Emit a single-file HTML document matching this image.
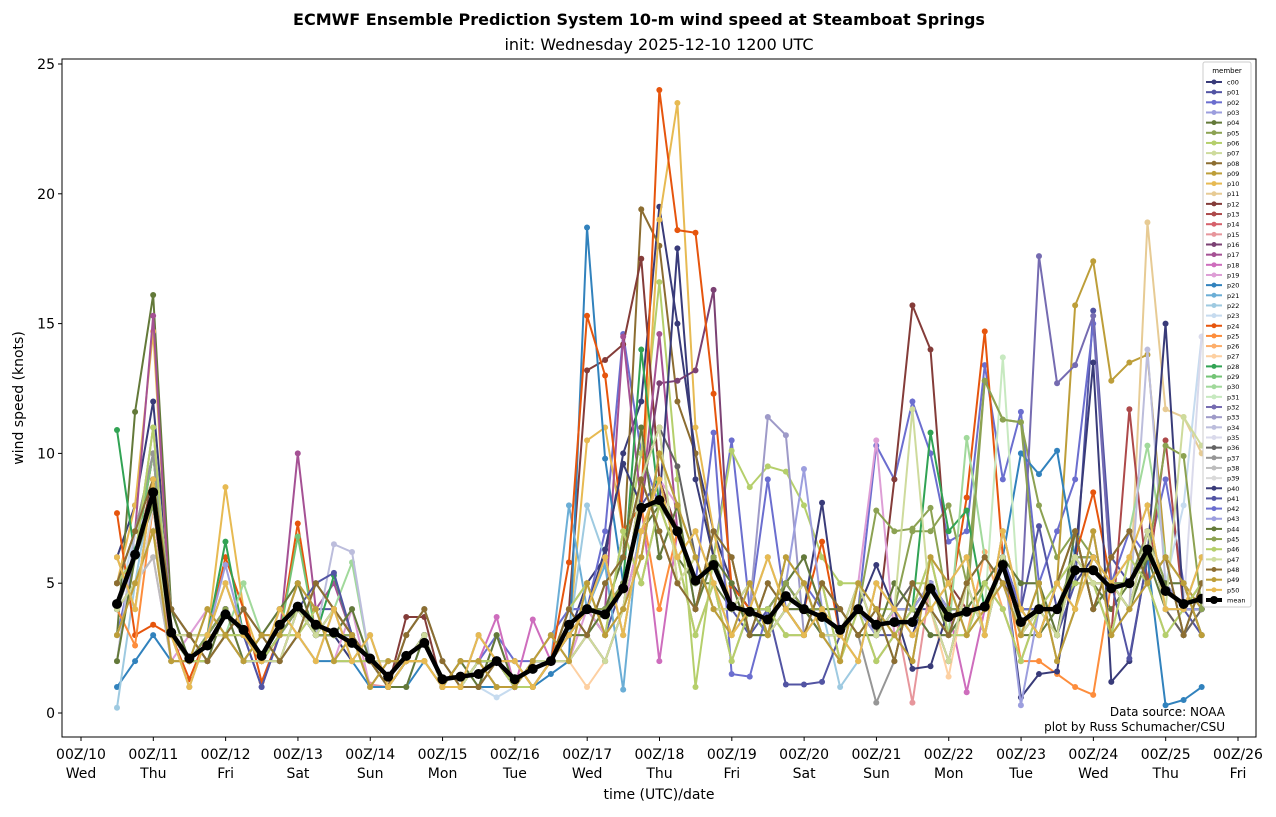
<!DOCTYPE html>
<html><head><meta charset="utf-8"><style>
body{margin:0;background:#fff;font-family:"Liberation Sans","DejaVu Sans",sans-serif}
svg text{font-family:"DejaVu Sans","Liberation Sans",sans-serif}
</style></head><body>
<svg id="chart" width="1276" height="812" xmlns="http://www.w3.org/2000/svg">
<text x="639" y="25" text-anchor="middle" font-size="16" font-weight="bold">ECMWF Ensemble Prediction System 10-m wind speed at Steamboat Springs</text>
<text x="659" y="50" text-anchor="middle" font-size="16">init: Wednesday 2025-12-10 1200 UTC</text>
<text transform="translate(23,398) rotate(-90)" text-anchor="middle" font-size="14">wind speed (knots)</text>
<text x="659" y="799" text-anchor="middle" font-size="14">time (UTC)/date</text>
<g id="axes"></g>
<g id="series"></g>
<g id="meanG"></g>
<rect x="62" y="59" width="1194" height="678" fill="none" stroke="#000" stroke-width="1"/>
<text x="1225" y="716" text-anchor="end" font-size="12">Data source: NOAA</text>
<text x="1225" y="731" text-anchor="end" font-size="12">plot by Russ Schumacher/CSU</text>
<g id="legend"></g>
</svg>
<script>
const dayLabels=["00Z/10","00Z/11","00Z/12","00Z/13","00Z/14","00Z/15","00Z/16","00Z/17","00Z/18","00Z/19","00Z/20","00Z/21","00Z/22","00Z/23","00Z/24","00Z/25","00Z/26"];
const weekdays=["Wed","Thu","Fri","Sat","Sun","Mon","Tue","Wed","Thu","Fri","Sat","Sun","Mon","Tue","Wed","Thu","Fri"];
const yTicks=[0,5,10,15,20,25];
const memberNames=["c00"].concat(Array.from({length:50},(_,i)=>"p"+String(i+1).padStart(2,"0")));
const meanValues=[4.2,6.1,8.5,3.1,2.1,2.6,3.8,3.2,2.2,3.4,4.1,3.4,3.1,2.7,2.1,1.4,2.2,2.7,1.3,1.4,1.5,2.0,1.3,1.7,2.0,3.4,4.0,3.8,4.8,7.9,8.2,7.0,5.1,5.7,4.1,3.9,3.6,4.5,4.0,3.7,3.2,4.0,3.4,3.5,3.5,4.8,3.7,3.9,4.1,5.7,3.5,4.0,4.0,5.5,5.5,4.8,5.0,6.3,4.7,4.2,4.4];
const m=[
[6,8,12,4,3,2,3,2,2,3,4,3,3,2,2,1,2,3,1,1,2,2,1,2,2,3,5,6,10,12,19.5,15,10,7,5,4,3,4,4,4,3,4,3,4,3,5,4,4,5,6,3,4,4,5,6,5,4,7,4,4,5],
[5,7,9,3,2,3,4,3,2,3,5,4,4,3,2,1,2,3,1,1,2,1,1,2,2,4,4,3,5,8,9,7,5,6,4,3,4,5,4,3,3,4,3,3,4,4,3,4,4,5,3,4,3,5,15.5,6,5,7,5,4,3],
[3,6,10,3,2,3,4,3,1,3,4,3,3,3,2,1,2,3,1,2,2,3,2,2,3,4,4,7,14.6,10,8,7,5,6,10.5,4,9,4,5,4,3,4,10.3,9,12,10,6.6,7,13.4,9,11.6,5,7,9,15,5,7,6,9,5,4],
[5,7,10,4,3,2,3,4,3,2,3,5,4,3,2,1,3,4,2,1,1,2,2,1,2,4,3,5,6,9,7,5,4,7,6,3,5,4,3,5,4,3,4,2,5,4,3,5,6,5,4,3,5,7,4,6,7,5,6,3,5],
[3,11.6,16.1,4,2,3,4,3,2,3,4,3,3,3,2,1,2,3,1,1,1,2,1,2,2,3,4,3,4,7,8,6,5,5,4,4,3,4,4,3,3,4,3,4,4,5,3,4,4,5,3,3,4,5,5,4,5,6,4,4,4],
[4,6,9,3,2,3,4,3,2,3,4,3,3,3,2,1,2,3,1,1,2,2,1,2,2,3,4,4,5,8,8,7,5,6,4,4,3,5,4,4,3,4,3,4,7,7,8,5,12.8,11.3,11.2,8,6,7,6,5,5,7,5,4,4],
[5,7,9,3,2,3,4,3,2,3,4,3,3,3,2,1,2,3,1,1,2,2,1,2,2,3,4,4,6,10,16.6,9,1,6,10.1,8.7,9.5,9.3,8,6,5,5,4,4,5,5,4,4,5,6,4,4,4,5,5,5,4,6,5,4,4],
[3,5,7,2,2,4,3,2,3,3,5,4,2,3,1,2,2,2,1,2,2,1,1,2,3,2,5,3,4,6,10,8,6,4,3,5,3,6,5,3,2,5,4,3,2,6,5,3,4,5,3,5,2,4,7,3,4,5,6,5,3],
[5,7,9,4,2,3,4,3,2,3,4,3,3,3,2,1,2,3,1,1,2,2,1,2,2,3,4,4,6,19.4,18,12,10,6,4,4,4,5,4,4,3,4,3,4,4,5,4,4,4,6,4,4,4,6,6,5,5,6,5,4,4],
[6,4,9,3,1,3,5,3,2,4,3,2,4,2,3,1,2,2,1,1,3,2,2,1,2,3,4,6,3,7,9,6,7,5,3,4,6,4,3,4,3,2,5,4,3,4,5,6,3,7,4,3,5,15.7,17.4,12.8,13.5,13.8,6,5,4],
[5,8,14.7,3,2,3,8.7,4,2,3,4,3,3,3,2,1,2,3,1,1,2,2,1,2,2,3,10.5,11,7,8,19,23.5,11,7,4,4,4,5,4,4,3,4,3,4,4,5,4,4,4,6,4,4,4,6,6,5,5,6,5,4,4],
[2,7,8,4,2,2,4,2,3,4,5,3,3,4,2,1,1,3,1,2,1,3,1,2,2,3,3,4,6,11,6,8,4,6,5,3,3,5,6,4,4,3,3,5,4,3,3,4,5,6,5,5,3,7,4,5,4,18.9,11.7,11.4,10],
[5,6,9,3,2,3,4,3,2,3,4,3,3,3,2,1,3.7,3.7,1,1,3,2,1,2,2,4,13.2,13.6,14.2,17.5,9,7,5,6,4,4,4,5,4,4,3,4,3,9,15.7,14,5,4,4,6,4,4,4,6,6,5,5,6,5,4,4],
[5,6,11,3,2,2,3,3,2,3,3,4,2,2,2,1,2,2,1,1,2,2,1,1,2,4,5,3,7,5,8,6,3,5,2,4,4,3,3,5,2,4,2,3,4,6,3,3,5,4,2,4,5,6,5,3,11.7,5,10.5,4,5],
[4,5,7,3,3,3,3,2,2,2,4,3,4,3,2,2,2,3,1,1,2,1,1,2,2,2,3,2,4,9,11,5,6,4,4,5,3,4,5,3,3,5,3,4,5,4,2,5,3,6,3,4,3,6,5,5,4,7,4,3,4],
[4,6,8,2,2,3,4,3,2,3,4,3,3,3,1.1,1,2,3,1,1,2,2,1,2,2,3,4,4,5,8,8,7,5,6,4,4,4,5,4,4,3,4,3,4,0.4,5,4,4,4,6,4,4,4,6,6,5,5,6,5,4,4],
[4,6,10,3,2,3,4,3,2,3,4,3,3,3,2,1,2,3,1,1,2,2,1,2,2,3,4,4,5,8,12.7,12.8,13.2,16.3,4,4,4,5,4,4,3,4,3,4,4,5,4,4,4,6,4,4,4,6,6,5,5,6,5,4,4],
[5,7,15.3,3,2,3,4,3,2,3,10,4,5,3,2,1,2,3,1,1,2,2,1,2,2,3,4,4,14.5,8,14.6,7,5,6,4,4,4,5,4,4,3,4,3,4,4,5,4,4,4,6,4,4,4,6,6,5,5,6,5,4,4],
[4,6,8,3,2,3,4,3,2,3,4,3,3,3,2,1,2,3,1,1,2,3.7,1,3.6,2,3,4,4,5,8,2,7,5,6,4,4,4,5,4,4,3,4,3,4,4,5,4,0.8,4,6,4,4,4,6,6,5,5,6,5,4,4],
[3,5,6,2,3,4,3,2,3,3,5,4,2,4,1,2,2,2,1,2,2,1,1,2,3,2,4,3,4,7,9,8,6,4,3,5,3,6,5,3,2,5,10.5,3,2,6,5,3,4,5,3,5,2,4,7,3,4,5,6,5,3],
[1,2,3,2,2,2,3,2,2,2,3,2,2,2,1,1,1,2,1,1,1,1,1,1,1.5,2,18.7,9.8,5,8,8,7,5,6,4,4,4,5,4,4,3,4,3,4,4,5,4,4,4,6,10,9.2,10.1,6,6,5,5,6,0.3,0.5,1],
[4,6,8,3,2,3,4,3,2,3,4,3,3,3,2,1,2,3,1,1,2,2,1,2,2,8,4,5.7,0.9,8,8,7,5,6,4,4,4,5,4,4,3,4,3,4,4,5,4,4,4,6,4,4,4,6,6,5,5,6,5,4,4],
[0.2,5,9,3,1,3,5,3,2,4,3,2,4,2,3,1,2,2,1,1,3,2,2,1,2,3,8,6,3,7,9,6,7,5,3,4,6,4,3,4,1,2,5,4,3,4,5,6,3,7,4,3,5,4,6,5,6,8,4,4,6],
[4,7,8,4,2,2,4,2,3,4,5,3,3,4,2,1,1,3,1,2,1,0.6,1,2,2,3,3,4,6,11,6,8,4,6,5,3,3,5,6,4,4,3,3,5,4,3,3,4,5,6,5,5,3,7,4,5,4,6,5,8,14.5],
[7.7,3,3.4,3,1.3,3,6,4,1.2,3,7.3,3,3,3,2,1,2,3,1,1,2,2,1,2,2,5.8,15.3,13,7,8,24,18.6,18.5,12.3,4.9,4,4,5,4,6.6,3,4,3,4,4,5,4,8.3,14.7,6,4,4,4,6,8.5,5,5,6,5,4,4],
[4,2.6,8,3,2,3,4,3,2,3,4,3,3,3,2,1,2,3,1,1,2,2,1,2,2,3,4,4,5,8,4,7,5,6,4,4,4,5,4,4,3,4,3,4,4,5,4,4,4,6,2,2,1.5,1,0.7,5,5,6,5,4,4],
[5,6,10,3,2,2,3,3,2,3,3,4,2,2,2,1,2,2,1,1,2,2,1,1,2,4,5,3,7,5,8,6,3,5,2,4,4,3,3,5,2,4,2,3,4,6,3,3,6.2,4,2,4,5,6,5,3,6,5,3,4,5],
[4,5,7,3,3,3,3,2,2,2,4,3,4,3,2,2,2,3,1,1,2,1,1,2,2,2,1,2,4,9,11,5,6,4,4,5,3,4,5,3,3,5,3,4,5,4,1.4,5,3,6,3,4,3,6,5,5,4,7,4,3,4],
[10.9,6,8,3,2,3,6.6,3,2,3,4,3,5.3,3,2,1,2,3,1,1,2,2,1,2,2,3,4,4,5,14,8,7,5,6,4,4,4,5,4,4,3,4,3,4,4,10.8,7,7.8,4,6,4,4,4,6,6,5,5,6,5,4,4],
[4,6,10,3,2,3,5,3,2,3,6.8,3,3,3,2,1,2,3,1,1,2,2,1,2,2,3,4,4,5,8,8,7,5,6,4,4,4,5,4,4,3,4,3,4,4,5,4,4,4,6,4,4,4,6,6,5,5,6,5,4,4],
[5,7,10,4,3,2,3,5,3,2,3,5,4,5.8,2,1,3,4,2,1,1,2,2,1,2,4,3,5,6,9,7,5,4,7,6,3,5,4,3,5,4,3,4,2,5,4,3,10.6,6,5,4,3,5,7,4,6,7,10.3,6,3,5],
[3,5,7,2,2,4,3,2,3,3,5,4,2,3,1,2,2,2,1,2,2,1,1,2,3,2,5,3,4,6,10,8,6,4,3,5,3,6,5,3,2,5,4,3,2,6,5,3,4,13.7,3,5,2,4,7,3,4,5,6,5,3],
[4,6,8,3,2,3,4,3,2,3,4,3,3,3,2,1,2,3,1,1,2,2,1,2,2,3,4,4,5,8,8,7,5,6,4,4,4,5,4,4,3,4,3,4,4,5,4,4,4,6,4,17.6,12.7,13.4,15.3,5,5,6,5,4,4],
[6,4,9,3,1,3,5,3,2,4,3,2,4,2,3,1,2,2,1,1,3,2,2,1,2,3,4,6,3,7,9,6,7,5,3,4,11.4,10.7,3,4,3,2,5,4,3,4,5,6,3,7,4,3,5,4,6,5,6,8,4,4,6],
[2,7,8,4,2,2,4,2,3,4,5,3,6.5,6.2,2,1,1,3,1,2,1,3,1,2,2,3,3,4,6,11,6,8,4,6,5,3,3,5,6,4,4,3,3,5,4,3,3,4,5,6,5,5,3,7,4,5,4,14,5,5,3],
[5,6,11,3,2,2,3,3,2,3,3,4,2,2,2,1,2,2,1,1,2,2,1,1,2,4,5,3,7,5,8,6,3,5,2,4,4,3,3,5,2,4,2,3,4,6,3,3,5,4,2,4,5,6,5,3,6,5,3,4,14.5],
[4,5,7,3,3,3,3,2,2,2,4,3,4,3,2,2,2,3,1,1,2,1,1,2,2,2,3,2,4,9,11,9.5,6,4,4,5,3,4,5,3,3,5,3,4,5,4,2,5,3,6,3,4,3,6,5,5,4,7,4,3,4],
[5,7,10,4,3,2,3,4,3,2,3,5,4,3,2,1,3,4,2,1,1,2,2,1,2,4,3,5,6,9,7,5,4,7,6,3,5,4,3,5,4,3,0.4,2,5,4,3,5,6,5,4,3,5,7,4,6,7,5,6,3,5],
[3,5,6,2,2,4,3,2,3,3,5,4,2,3,1,2,2,2,1,2,2,1,1,2,3,2,5,3,4,6,10,8,6,4,3,5,3,6,5,3,2,5,4,3,2,6,5,3,4,5,3,5,2,4,7,3,4,5,6,5,3],
[6,4,8,3,1,3,5,3,2,4,3,2,4,2,3,1,2,2,1,1,3,2,2,1,2,3,4,6,3,7,9,6,7,5,3,4,6,4,3,4,3,2,5,4,3,4,5,6,3,7,4,3,5,4,6,5,6,8,4,4,6],
[4,6,8,3,2,3,4,3,2,3,4,3,3,3,2,1,2,3,1,1,2,2,1,2,2,3,4,6.3,9.6,8,8,17.9,9,6,4,4,4,5,4,8.1,3,4,5.7,4,1.7,1.8,4,4,4,6,0.6,1.5,1.6,6,13.5,1.2,2,6,15,4,4],
[4,6,8,3,2,3,4,3,1,3,4,5,5.4,3,2,1,2,3,1,1,2,2,1,2,2,3,4,4,5,8,8,7,5,6,4,4,4,1.1,1.1,1.2,3,4,3,4,4,5,4,4,4,6,4,7.2,4,6,6,5,2.1,6,5,4,4],
[4,6,8,3,2,3,4,3,2,3,4,3,3,3,2,1,2,3,1,1,2,2,1,2,2,3,4,4,5,8,8,7,5,10.8,1.5,1.4,4,5,4,4,3,4,3,4,4,5,4,4,4,6,4,4,4,6,6,5,5,6,5,4,4],
[4,6,8,3,2,3,5.7,3,2,3,4,3,3,3,2,1,2,3,1,1,2,2,1,2,2,3,4,4,5,8,8,7,5,6,4,4,4,5,9.4,4,3,4,3,4,4,5,4,4,4,6,0.3,4,4,6,6,5,5,6,5,4,4],
[2,6,8,4,2,2,4,2,3,4,5,3,3,4,2,1,1,3,1,2,1,3,1,2,2,3,3,4,6,11,6,8,4,6,5,3,3,5,6,4,4,3,3,5,4,3,3,4,5,6,5,5,3,7,4,5,4,6,5,5,3],
[4,6,8,3,2,3,4,3,2,3,4,3,3,3,2,1,2,3,1,1,2,2,1,2,2,3,4,4,5,8,8,7,5,6,4,4,4,5,4,4,3,4,7.8,7,7.1,7.9,4,4,12.8,11.3,11.2,4,4,6,6,5,5,6,10.3,9.9,4],
[5,6,11,3,2,2,3,3,2,3,3,4,2,2,2,1,2,2,1,1,2,2,1,1,2,4,5,3,7,5,8,6,3,5,2,4,4,3,3,5,2,4,2,3,4,6,3,3,5,4,2,4,5,6,5,3,6,5,3,4,5],
[4,5,7,3,3,3,3,2,2,2,4,3,4,3,2,2,2,3,1,1,2,1,1,2,2,2,3,2,4,9,11,5,6,4,4,5,3,4,5,3,3,5,3,4,11.7,4,2,5,3,6,3,4,3,6,5,5,4,7,4,11.4,10.3],
[5,7,9,4,3,2,3,4,3,2,3,5,4,3,2,1,3,4,2,1,1,2,2,1,2,4,3,5,6,9,7,5,4,7,6,3,5,4,3,5,4,3,4,2,5,4,3,5,6,5,4,3,5,7,4,6,7,5,6,3,5],
[3,5,7,2,2,4,3,2,3,3,5,4,2,3,1,2,2,2,1,2,2,1,1,2,3,2,5,3,4,6,10,8,6,4,3,5,3,6,5,3,2,5,4,3,2,6,5,3,4,5,3,5,2,4,7,3,4,5,6,5,3],
[6,4,9,3,1,3,5,3,2,4,3,2,4,2,3,1,2,2,1,1,3,2,2,1,2,3,4,6,3,7,9,6,7,5,3,4,6,4,3,4,3,2,5,4,3,4,5,6,3,7,4,3,5,4,6,5,6,8,4,4,6]
];
const colors=["#393b79","#5254a3","#6b6ecf","#9c9ede","#637939","#8ca252","#b5cf6b","#cedb9c","#8c6d31","#bd9e39","#e7ba52","#e7cb94","#843c39","#ad494a","#d6616b","#e7969c","#7b4173","#a55194","#ce6dbd","#de9ed6","#3182bd","#6baed6","#9ecae1","#c6dbef","#e6550d","#fd8d3c","#fdae6b","#fdd0a2","#31a354","#74c476","#a1d99b","#c7e9c0","#756bb1","#9e9ac8","#bcbddc","#dadaeb","#636363","#969696","#bdbdbd","#d9d9d9"];
const NS="http://www.w3.org/2000/svg";
const xOf=i=>117+i*(1238-81)/64;
const xDay=d=>81+d*(1238-81)/16;
const yOf=v=>713-v*(713-64)/25;
function mk(t,a,p){const e=document.createElementNS(NS,t);for(const k in a)e.setAttribute(k,a[k]);p.appendChild(e);return e;}
const axes=document.getElementById('axes');
yTicks.forEach(v=>{const y=yOf(v);
 const t=mk('line',{x1:58,x2:62,y1:y,y2:y,stroke:'#000'},axes);
 
 
 const l=mk('text',{x:55,y:y+5,'text-anchor':'end','font-size':14},axes);l.textContent=v;
 
 });
dayLabels.forEach((d,i)=>{const x=xDay(i);
 const t=mk('line',{x1:x,x2:x,y1:737,y2:741,stroke:'#000'},axes);
 
 
 const l=mk('text',{x:x,y:759,'text-anchor':'middle','font-size':14},axes);l.textContent=d;
 
 
 const w=mk('text',{x:x,y:778,'text-anchor':'middle','font-size':14},axes);w.textContent=weekdays[i];
 
 });
const sg=document.getElementById('series');
m.forEach((arr,k)=>{const c=colors[k%40];const g=mk('g',{},sg);
 
 
 mk('polyline',{points:arr.map((v,i)=>xOf(i)+','+yOf(v)).join(' '),fill:'none',stroke:c,'stroke-width':2},g);
 arr.forEach((v,i)=>mk('circle',{cx:xOf(i),cy:yOf(v),r:3,fill:c},g));});
const mg=document.getElementById('meanG');
mk('polyline',{points:meanValues.map((v,i)=>xOf(i)+','+yOf(v)).join(' '),fill:'none',stroke:'#000','stroke-width':4.5},mg);
meanValues.forEach((v,i)=>{const c=mk('circle',{cx:xOf(i),cy:yOf(v),r:5,fill:'#000'},mg);
 
 });
const lg=document.getElementById('legend');
mk('rect',{x:1203,y:62,width:48,height:545,fill:'#fff',stroke:'#ccc',rx:2},lg);
const ht=mk('text',{x:1227,y:73,'text-anchor':'middle','font-size':7},lg);ht.textContent='member';
const names=memberNames.concat(['mean']);
names.forEach((n,k)=>{const y=82+k*(600-82)/51;const c=k<51?colors[k%40]:'#000';
 const e=mk('g',{},lg);
 
 
 mk('line',{x1:1206,x2:1222,y1:y,y2:y,stroke:c,'stroke-width':k<51?2:4},e);
 mk('circle',{cx:1214,cy:y,r:k<51?2.5:4,fill:c},e);
 const t=mk('text',{x:1227,y:y+2.5,'font-size':6.5},e);t.textContent=n;});
</script>
</body></html>
